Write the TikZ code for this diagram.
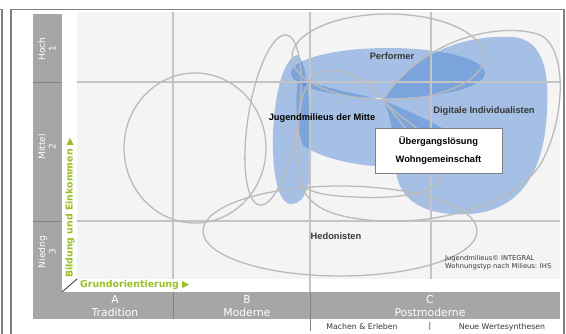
\documentclass[tikz,border=0pt]{standalone}
\usepackage{fontspec}
\setmainfont{Liberation Sans}
\newfontfamily\verd{DejaVu Sans}
\definecolor{bandgray}{RGB}{166,166,166}
\definecolor{bggray}{RGB}{244,244,244}
\definecolor{gridgray}{RGB}{196,196,196}
\definecolor{linegray}{RGB}{186,186,186}
\definecolor{framegray}{RGB}{128,128,128}
\definecolor{milieublue}{RGB}{70,130,210}
\definecolor{axisgreen}{RGB}{150,192,35}
\definecolor{textgray}{RGB}{55,55,55}
\begin{document}
\begin{tikzpicture}[x = 1pt, y = -1pt,
  milieu/.style = {fill = milieublue, fill opacity = 0.45},
  outline/.style = {draw = linegray, line width = 1.3pt},
  gridline/.style = {draw = gridgray, line width = 1.1pt},
  lbl/.style = {font = \bfseries\fontsize{9.3}{10}\selectfont, text = textgray, inner sep = 0pt},
  barlbl/.style = {font = \verd\fontsize{9}{10.5}\selectfont, text = white, align = center, rotate = 90, inner sep = 0pt},
  bandlbl/.style = {font = \verd\fontsize{10.8}{12.5}\selectfont, text = white, align = center, inner sep = 0pt},
  axislbl/.style = {font = \verd\bfseries\fontsize{9.4}{10}\selectfont, text = axisgreen, inner sep = 0pt},
  notelbl/.style = {font = \verd\fontsize{7.8}{9}\selectfont, text = textgray, inner sep = 0pt}]
\useasboundingbox (0,0) rectangle (566,333);
\fill[white] (0,0) rectangle (566,333);
\draw[framegray, line width = 1.2pt] (11,334) -- (11,9.5) -- (564,9.5) -- (564,334);
\draw[framegray, line width = 1.2pt] (0,9.5) -- (2,9.5) -- (2,334);
\fill[bggray] (77,12) rectangle (560,279);
\fill[bandgray] (33,14) rectangle (62,292);
\fill[bandgray] (33,292) rectangle (560,319);
\draw[framegray, line width = 1pt] (33,82) -- (62,82);
\draw[framegray, line width = 1pt] (33,221) -- (62,221);
\draw[framegray, line width = 1pt] (173,292) -- (173,319);
\draw[framegray, line width = 1pt] (310,292) -- (310,331);
\fill[milieu] (297,55) .. controls (283,58) and (272,100) .. (273,150) .. controls (274,190) and (283,205) .. (292,204) .. controls (305,203) and (312,185) .. (311,150) .. controls (310,110) and (308,60) .. (297,55) -- cycle;
\fill[milieu] (298,80) .. controls (330,88) and (360,95) .. (383,100) .. controls (405,110) and (430,120) .. (445,130) -- (445,168) .. controls (420,168) and (395,167) .. (375,166) .. controls (345,164) and (315,155) .. (303,145) .. controls (296,130) and (295,95) .. (298,80) -- cycle;
\fill[milieu] (383,100) .. controls (420,45) and (475,35) .. (512,37) .. controls (545,39) and (549,75) .. (547,110) .. controls (545,165) and (525,210) .. (470,214) .. controls (425,217) and (398,200) .. (396,170) .. controls (394,140) and (392,118) .. (383,100) -- cycle;
\fill[milieu] (388,73) ellipse [x radius = 97pt, y radius = 25pt];
\foreach \gx in {173,431} \draw[gridline] (\gx,12) -- (\gx,279);
\draw[gridline] (310,12) -- (310,292);
\foreach \gy in {82,221} \draw[gridline] (77,\gy) -- (560,\gy);
\draw[outline] (195,148) ellipse [x radius = 71pt, y radius = 75pt];
\draw[outline, rotate around = {-9:(273,120)}] (273,120) ellipse [x radius = 25pt, y radius = 86pt];
\draw[outline] (388,57) ellipse [x radius = 96pt, y radius = 43pt];
\draw[outline] (383,100) .. controls (425,35) and (505,22) .. (540,35) .. controls (568,48) and (566,120) .. (540,165) .. controls (510,210) and (420,228) .. (360,219) .. controls (320,214) and (302,200) .. (300,175) .. controls (297,140) and (296,90) .. (315,75) .. controls (340,62) and (370,80) .. (383,100) -- cycle;
\draw[outline] (383,100) .. controls (405,125) and (448,140) .. (445,170) .. controls (442,195) and (395,199) .. (355,197) .. controls (330,196) and (310,194) .. (300,183);
\draw[outline] (383,100) .. controls (392,112) and (400,120) .. (410,135);
\draw[outline] (340,231) ellipse [x radius = 137pt, y radius = 45pt];
\draw[textgray, line width = 0.8pt] (62,292) -- (77,279);
\node[lbl] (perf) at (392,56) {Performer};
\node[lbl, text = black] (mitte) at (322,118) {Jugendmilieus der Mitte};
\node[lbl] (digi) at (484,111) {Digitale Individualisten};
\node[lbl] (hedo) at (336,236) {Hedonisten};
\node[lbl, text = black, draw = framegray, fill = white, line width = 0.8pt, align = center, minimum width = 127pt, minimum height = 45pt, font = \bfseries\fontsize{9.3}{18}\selectfont] (wohn) at (438.5,150.5) {Übergangslösung\\Wohngemeinschaft};
\node[notelbl, anchor = west, font = \verd\fontsize{6.7}{8}\selectfont] (quelle1) at (445,259) {Jugendmilieus© INTEGRAL};
\node[notelbl, anchor = west, font = \verd\fontsize{6.7}{8}\selectfont] (quelle2) at (445,267) {Wohnungstyp nach Milieus: IHS};
\node[barlbl] (hoch) at (47,49) {Hoch\\1};
\node[barlbl] (mittel) at (47,147) {Mittel\\2};
\node[barlbl] (niedrig) at (47,252) {Niedrig\\3};
\node[bandlbl] (tradition) at (115,306) {A\\Tradition};
\node[bandlbl] (moderne) at (247,306) {B\\Moderne};
\node[bandlbl] (postmoderne) at (430,306) {C\\Postmoderne};
\node[axislbl, anchor = west] (grund) at (80,285) {Grundorientierung {\verd ▶}};
\node[axislbl, anchor = west, rotate = 90] (bildung) at (70,278) {Bildung und Einkommen {\verd ▶}};
\node[notelbl] (machen) at (362,327) {Machen \& Erleben};
\node[notelbl] (trenner) at (430,326) {|};
\node[notelbl] (neue) at (502,327) {Neue Wertesynthesen};
\end{tikzpicture}
\end{document}
